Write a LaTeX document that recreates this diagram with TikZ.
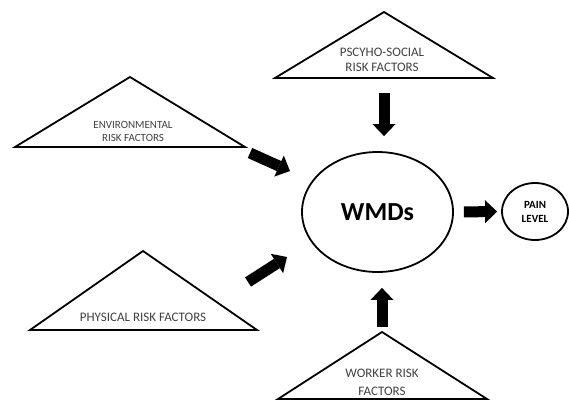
\documentclass[tikz,border=0pt]{standalone}
\usepackage{fontspec}
\setmainfont{Carlito}
\usetikzlibrary{shapes.geometric, arrows.meta}
\tikzstyle{risk} = [draw=black, line width=1.8pt, line join=miter]
\tikzstyle{risktext} = [text=black!75, align=center, inner sep=0pt]
\tikzstyle{outcome} = [ellipse, draw=black, line width=1.8pt, inner sep=0pt, text=black]
\tikzstyle{arrow} = [line width=11pt, -{Triangle[length=12pt, width=23pt, line width=0pt 0]}]

\begin{document}
\begin{tikzpicture}[x=1pt, y=-1pt]
        \useasboundingbox (0,0) rectangle (569,400);
        % risk factor triangles
        \draw [risk] (15,147) -- (130,77) -- (245,147) -- cycle;
        \draw [risk] (275,78) -- (384,12) -- (493,78) -- cycle;
        \draw [risk] (30,330) -- (143,251) -- (257,330) -- cycle;
        \draw [risk] (278,399) -- (382,332) -- (487,399) -- cycle;
        \node (env) [risktext, font=\fontsize{11}{13}\selectfont] at (133,131) {ENVIRONMENTAL\\RISK FACTORS};
        \node (psy) [risktext, font=\fontsize{13}{15}\selectfont] at (382,60) {PSCYHO-SOCIAL\\RISK FACTORS};
        \node (phys) [risktext, font=\fontsize{13}{15}\selectfont] at (143,317) {PHYSICAL RISK FACTORS};
        \node (wrk) [risktext, font=\fontsize{13}{18}\selectfont] at (382,382) {WORKER RISK\\FACTORS};
        % outcomes
        \node (wmd) [outcome, minimum width=151pt, minimum height=120pt, font=\fontsize{26}{30}\selectfont\bfseries] at (377.5,212) {WMDs};
        \node (pain) [outcome, minimum width=66pt, minimum height=57pt, font=\fontsize{11}{14}\selectfont\bfseries, align=center] at (535,211.5) {PAIN\\LEVEL};
        \coordinate (psybase) at (384,78);
        \coordinate (wrkapex) at (382,332);
        \coordinate (envout) at (250,153);
        \coordinate (envin) at (290,171);
        \coordinate (physout) at (248,282);
        \coordinate (physin) at (287,257);

        \draw [arrow] (envout) -- (envin);
        \draw [arrow] (physout) -- (physin);
        \draw [arrow, shorten <=15pt, shorten >=15pt] (psybase) -- (psybase |- wmd.north);
        \draw [arrow, shorten <=5pt, shorten >=15pt] (wrkapex) -- (wrkapex |- wmd.south);
        \draw [arrow, shorten <=10pt, shorten >=4pt] (wmd.east) -- (pain.west);
    \end{tikzpicture}
\end{document}
